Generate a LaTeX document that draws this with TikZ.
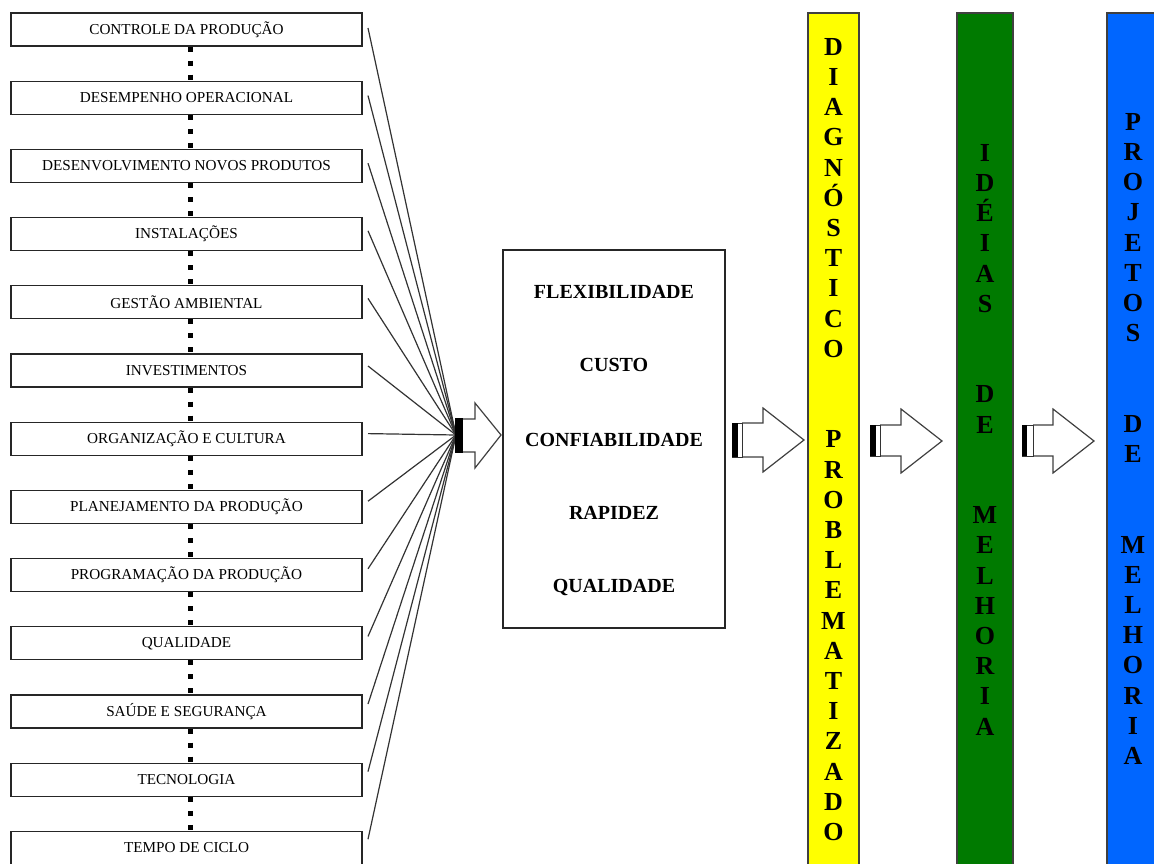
\documentclass[tikz,border=0pt]{standalone}
\usepackage{fontspec}
\setmainfont{Liberation Serif}
\definecolor{colyellow}{RGB}{255,255,0}
\definecolor{colgreen}{RGB}{0,122,0}
\definecolor{colblue}{RGB}{0,102,255}
\begin{document}
\begin{tikzpicture}[x=1pt,y=-1pt,
  factorbox/.style={draw=black!85,line width=1.3pt,minimum width=351pt,minimum height=33pt,inner sep=0pt,
    font={\fontsize{15.2}{16}\selectfont}},
  dotlink/.style={line width=5pt,dash pattern=on 5pt off 9pt,black},
  fanline/.style={line width=1.2pt,black!80},
  perfbox/.style={draw=black!85,line width=1.3pt,minimum width=222pt,minimum height=378pt,inner sep=0pt},
  perftext/.style={font={\fontsize{20}{22}\selectfont\bfseries},inner sep=0pt},
  colrect/.style={draw=black!75,line width=1.5pt},
  coltext/.style={font={\fontsize{26}{30.2}\selectfont\bfseries},inner sep=0pt,align=center,anchor=north},
  arrowline/.style={draw=black!75,line width=1.2pt,fill=white,line join=miter},
]
\useasboundingbox (0,0) rectangle (1154,863);
\fill[white] (0,0) rectangle (1154,863);

% factor boxes
\foreach \i/\t in {1/CONTROLE DA PRODUÇÃO,2/DESEMPENHO OPERACIONAL,3/DESENVOLVIMENTO NOVOS PRODUTOS,
  4/INSTALAÇÕES,5/GESTÃO AMBIENTAL,6/INVESTIMENTOS,7/ORGANIZAÇÃO E CULTURA,
  8/PLANEJAMENTO DA PRODUÇÃO,9/PROGRAMAÇÃO DA PRODUÇÃO,10/QUALIDADE,
  11/SAÚDE E SEGURANÇA,12/TECNOLOGIA,13/TEMPO DE CICLO}{
  \pgfmathsetmacro{\top}{13+(\i-1)*68.2}
  \pgfmathsetmacro{\off}{15-0.6*(\i-1)}
  \node[factorbox] (b\i) at (186.5,\top+16.5) {\t};
  \coordinate (s\i) at (368,\top+\off);
}

% dotted links between boxes
\foreach \i [evaluate=\i as \j using int(\i+1)] in {1,...,12}{
  \draw[dotlink] ([xshift=3.5pt]b\i.south) -- ([xshift=3.5pt]b\j.north);
}

% fan of lines to hub
\coordinate (hub) at (456,435);
\foreach \i in {1,...,13}{
  \draw[fanline] (s\i) -- (hub);
}

% arrow 1
\draw[arrowline] (463,419) -- (475,419) -- (475,403) -- (501,435) -- (475,468) -- (475,452) -- (463,452);
\fill[black] (455,418) rectangle (463,453);

% central box
\node[perfbox] (perf) at (614,439) {};
\node[perftext] (t1) at (614,292) {FLEXIBILIDADE};
\node[perftext] (t2) at (614,365) {CUSTO};
\node[perftext] (t3) at (614,440) {CONFIABILIDADE};
\node[perftext] (t4) at (614,513) {RAPIDEZ};
\node[perftext] (t5) at (614,587) {QUALIDADE};

% arrow 2
\draw[arrowline] (742,423) -- (763,423) -- (763,408) -- (804,440) -- (763,472) -- (763,457) -- (742,457);
\draw[black!80,line width=1pt] (732,423) rectangle (742,457);
\fill[black] (732,423) rectangle (738,457);

% columns
\draw[colrect,fill=colyellow] (808,13) rectangle (859,875);
\draw[colrect,fill=colgreen] (957,13) rectangle (1013,875);
\draw[colrect,fill=colblue] (1107,13) rectangle (1170,875);

\node[coltext] (c1) at (833.5,38) {D\\I\\A\\G\\N\\Ó\\S\\T\\I\\C\\O\\~\\~\\P\\R\\O\\B\\L\\E\\M\\A\\T\\I\\Z\\A\\D\\O};
\node[coltext] (c2) at (985,144) {I\\D\\É\\I\\A\\S\\~\\~\\D\\E\\~\\~\\M\\E\\L\\H\\O\\R\\I\\A};
\node[coltext] (c3) at (1133,113) {P\\R\\O\\J\\E\\T\\O\\S\\~\\~\\D\\E\\~\\~\\M\\E\\L\\H\\O\\R\\I\\A};

% arrow 3
\draw[arrowline] (880,425) -- (901,425) -- (901,409) -- (942,441) -- (901,473) -- (901,456) -- (880,456);
\draw[black!80,line width=1pt] (870,425) rectangle (880,456);
\fill[black] (870,425) rectangle (876,456);

% arrow 4
\draw[arrowline] (1033,425) -- (1053,425) -- (1053,409) -- (1094,441) -- (1053,473) -- (1053,456) -- (1033,456);
\draw[black!80,line width=1pt] (1022,425) rectangle (1033,456);
\fill[black] (1022,425) rectangle (1027,456);
\end{tikzpicture}
\end{document}
